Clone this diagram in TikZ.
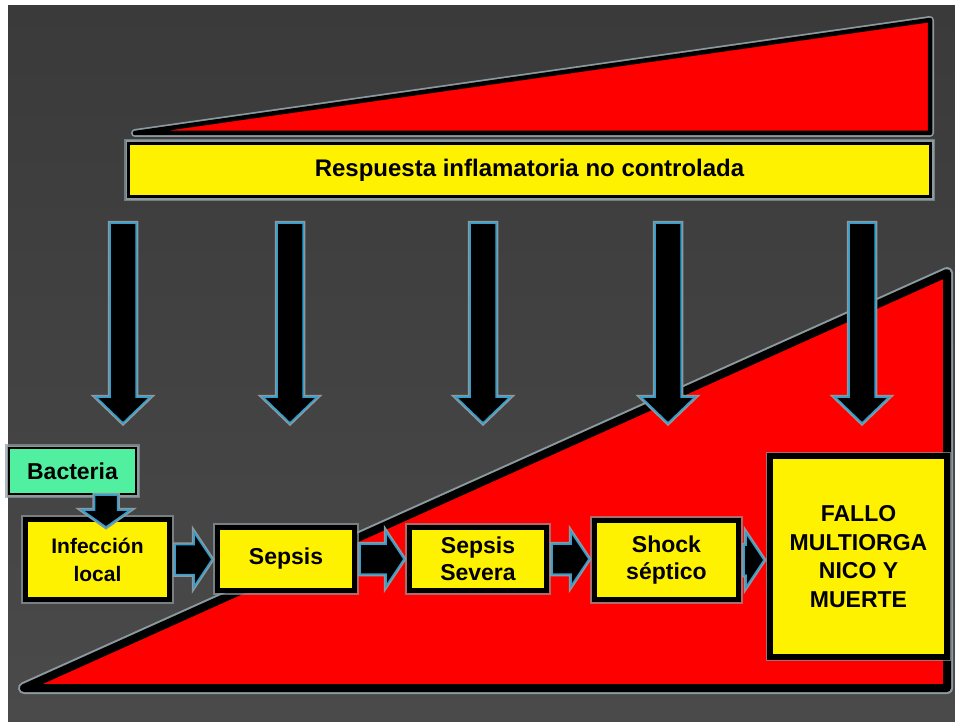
\documentclass[tikz,border=0pt]{standalone}
\usepackage{fontspec}
\setmainfont{Liberation Sans}
\usetikzlibrary{calc}
\definecolor{bgtop}{HTML}{3A3A3A}
\definecolor{bgbot}{HTML}{4A4A4A}
\definecolor{glowc}{HTML}{8C999E}
\definecolor{arrc}{HTML}{2E9FCF}
\definecolor{bactc}{RGB}{80,240,160}
\tikzset{
  box/.style={draw=black, line width=5pt, fill=yellow, align=center, inner sep=0pt,
    font=\bfseries\fontsize{23}{27}\selectfont,
    preaction={draw=glowc, draw opacity=0.7, line width=8.5pt}},
  blk/.style={fill=black, draw=arrc, line width=1.5pt, line join=miter,
    preaction={draw=glowc, line width=4.5pt}},
  tri/.style={fill=red, draw=black, line join=round}
}
\newcommand\hblk[2]{%
  \draw[blk] let \p1=($(#1.east)+(3,0)$), \p2=($(#2.west)+(-3,0)$) in
    (\x1,\y1+15pt) -- (\x2-18pt,\y1+15pt) -- (\x2-18pt,\y1+27pt) -- (\x2,\y1)
    -- (\x2-18pt,\y1-27pt) -- (\x2-18pt,\y1-15pt) -- (\x1,\y1-15pt) -- cycle;}
\begin{document}
\begin{tikzpicture}[x=1pt,y=-1pt]
\useasboundingbox (0,0) rectangle (955,722);
\fill[white] (0,0) rectangle (955,722);
\shade[top color=bgtop, bottom color=bgbot] (8,6) rectangle (955,722);

% top triangle
\draw[glowc, line width=8pt, line join=round] (135,133) -- (930,20) -- (930,133) -- cycle;
\draw[tri, line width=4.5pt] (135,133) -- (930,20) -- (930,133) -- cycle;

% banner
\node[box, line width=3pt, preaction={draw=glowc, line width=6pt},
      minimum width=802pt, minimum height=53pt, font=\bfseries\fontsize{24}{28}\selectfont]
  (banner) at (529.5,170) {Respuesta inflamatoria no controlada};

% big triangle
\draw[glowc, line width=12pt, line join=round] (24,688) -- (947,273) -- (947,688) -- cycle;
\draw[tri, line width=8pt] (24,688) -- (947,273) -- (947,688) -- cycle;

% down arrows
\foreach \cx in {123,290,483,668,862}{
  \draw[blk] let \p1=(banner.south), \n1={\y1-25pt}, \n2={\y1-199pt}, \n3={\y1-225pt} in
    ({(\cx-13)*1pt},\n1) -- ({(\cx+13)*1pt},\n1) -- ({(\cx+13)*1pt},\n2)
    -- ({(\cx+27)*1pt},\n2) -- ({\cx*1pt},\n3) -- ({(\cx-27)*1pt},\n2)
    -- ({(\cx-13)*1pt},\n2) -- cycle;
}

% boxes
\node[box, fill=bactc, line width=2pt, preaction={draw=glowc, line width=5pt},
      minimum width=127pt, minimum height=46pt] (bact) at (72.5,471) {Bacteria};
\node[box, minimum width=144pt, minimum height=80pt,
      font=\bfseries\fontsize{21}{28}\selectfont] (infl) at (97.5,559.5) {Infección\\local};
\node[box, minimum width=137pt, minimum height=63pt] (seps) at (286,559) {Sepsis};
\node[box, minimum width=137pt, minimum height=63pt] (sev) at (478,559) {Sepsis\\Severa};
\node[box, minimum width=144pt, minimum height=79pt] (shock) at (666.5,560) {Shock\\séptico};
\node[box, line width=6pt, minimum width=177pt, minimum height=201pt,
      font=\bfseries\fontsize{23}{28.5}\selectfont] (fallo) at (858.5,556.5)
  {FALLO\\MULTIORGA\\NICO Y\\MUERTE};

% horizontal arrows
\hblk{infl}{seps}
\hblk{seps}{sev}
\hblk{sev}{shock}
\hblk{shock}{fallo}

% bacteria arrow
\draw[blk] let \p1=(bact.south), \p2=(infl.north) in
  (94.5pt,\y1) -- (117.5pt,\y1) -- (117.5pt,\y2+7pt) -- (130pt,\y2+7pt)
  -- (106pt,\y2-10pt) -- (82pt,\y2+7pt) -- (94.5pt,\y2+7pt) -- cycle;
\end{tikzpicture}
\end{document}
